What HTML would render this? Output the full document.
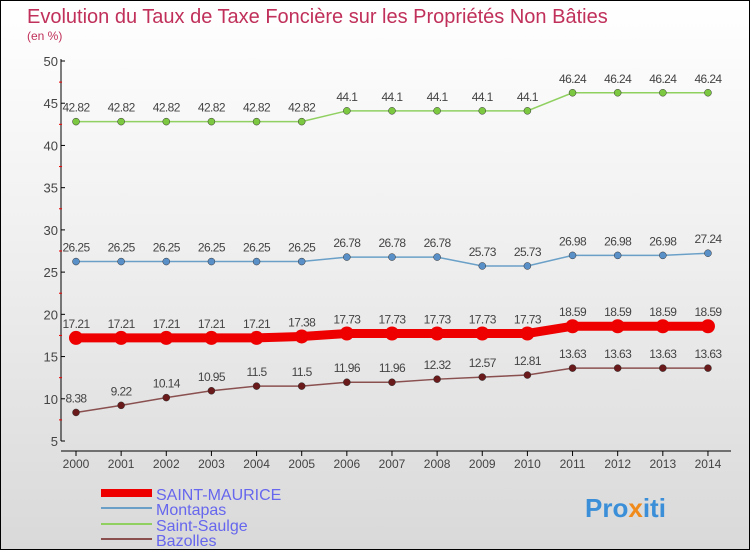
<!DOCTYPE html>
<html><head><meta charset="utf-8">
<style>
body{margin:0}
#c{width:748px;height:548px;border:1px solid #000;background:linear-gradient(#fff 0%,#f1f1f1 40%,#d9d9d9 100%);position:relative;overflow:hidden;font-family:"Liberation Sans",sans-serif}
</style></head><body>
<div id="c">
<svg id="s" width="748" height="548" xmlns="http://www.w3.org/2000/svg">
<text x="26" y="22" font-size="20" fill="#c0305a">Evolution du Taux de Taxe Foncière sur les Propriétés Non Bâties</text>
<text x="26" y="39" font-size="12" fill="#c0305a">(en %)</text>
<g id="axes"></g><g id="series"></g>
<g>
<rect x="100" y="488" width="51" height="8" fill="#e00"/>
<text x="155" y="499" font-size="16" fill="#6666ee">SAINT-MAURICE</text>
<rect x="100" y="506" width="51" height="2" fill="#6aa0c8"/>
<text x="155" y="514" font-size="16" fill="#6666ee">Montapas</text>
<rect x="100" y="522" width="51" height="2" fill="#8fd060"/>
<text x="155" y="530" font-size="16" fill="#6666ee">Saint-Saulge</text>
<rect x="100" y="537" width="51" height="2" fill="#8a5050"/>
<text x="155" y="545" font-size="16" fill="#6666ee">Bazolles</text>
</g>
<text x="584" y="516" font-size="26" font-weight="bold"><tspan fill="#3a8fd8">Pro</tspan><tspan fill="#f08a1a">x</tspan><tspan fill="#3a8fd8">iti</tspan></text>
</svg></div>
<script>
const years=[2000,2001,2002,2003,2004,2005,2006,2007,2008,2009,2010,2011,2012,2013,2014];
const yTicks=[5,10,15,20,25,30,35,40,45,50];
const saintMaurice=[17.21,17.21,17.21,17.21,17.21,17.38,17.73,17.73,17.73,17.73,17.73,18.59,18.59,18.59,18.59];
const montapas=[26.25,26.25,26.25,26.25,26.25,26.25,26.78,26.78,26.78,25.73,25.73,26.98,26.98,26.98,27.24];
const saintSaulge=[42.82,42.82,42.82,42.82,42.82,42.82,44.1,44.1,44.1,44.1,44.1,46.24,46.24,46.24,46.24];
const bazolles=[8.38,9.22,10.14,10.95,11.5,11.5,11.96,11.96,12.32,12.57,12.81,13.63,13.63,13.63,13.63];
const NS="http://www.w3.org/2000/svg";
const X=i=>75+i*45.14, Y=v=>440-(v-5)*(380/45);
function mk(t,a,p){const e=document.createElementNS(NS,t);for(const k in a)e.setAttribute(k,a[k]);p.appendChild(e);return e;}
const ax=document.getElementById('axes'),sg=document.getElementById('series');
let e=mk('line',{x1:60,y1:58,x2:60,y2:440,stroke:'#000'},ax);

e=mk('line',{x1:60,y1:450,x2:730,y2:450,stroke:'#000'},ax);

yTicks.forEach(v=>{mk('line',{x1:60,y1:Y(v),x2:64,y2:Y(v),stroke:'#000'},ax);
 if(v<50)mk('line',{x1:58,y1:Y(v+2.5),x2:61,y2:Y(v+2.5),stroke:'#e00'},ax);
 const t=mk('text',{x:57,y:Y(v)+5,'text-anchor':'end','font-size':13,fill:'#444'},ax);t.textContent=v;
 });
years.forEach((y,i)=>{mk('line',{x1:X(i),y1:450,x2:X(i),y2:455,stroke:'#000'},ax);
 const t=mk('text',{x:X(i),y:467,'text-anchor':'middle','font-size':12,fill:'#444'},ax);t.textContent=y;
 });
function draw(d,col,w,r,dot,name){
 const g=mk('g',{},sg);
 const p=mk('polyline',{points:d.map((v,i)=>X(i)+','+Y(v)).join(' '),fill:'none',stroke:col,'stroke-width':w},g);
 
 d.forEach((v,i)=>{const c=mk('circle',{cx:X(i),cy:Y(v),r:r,fill:dot,stroke:'#333','stroke-width':r>5?0:0.5},g);
  
  const t=mk('text',{x:X(i),y:Y(v)-10,'text-anchor':'middle','font-size':12,fill:'#444','letter-spacing':'-0.6'},g);t.textContent=v;
  });
}
draw(saintSaulge,'#8fd060',1.5,3.5,'#7cc840','saint-saulge');
draw(montapas,'#6aa0c8',1.5,3.5,'#5a90c8','montapas');
draw(saintMaurice,'#e00',9,7,'#e00','saint-maurice');
draw(bazolles,'#8a5050',1.5,3.5,'#6a1a1a','bazolles');
</script>
</body></html>
